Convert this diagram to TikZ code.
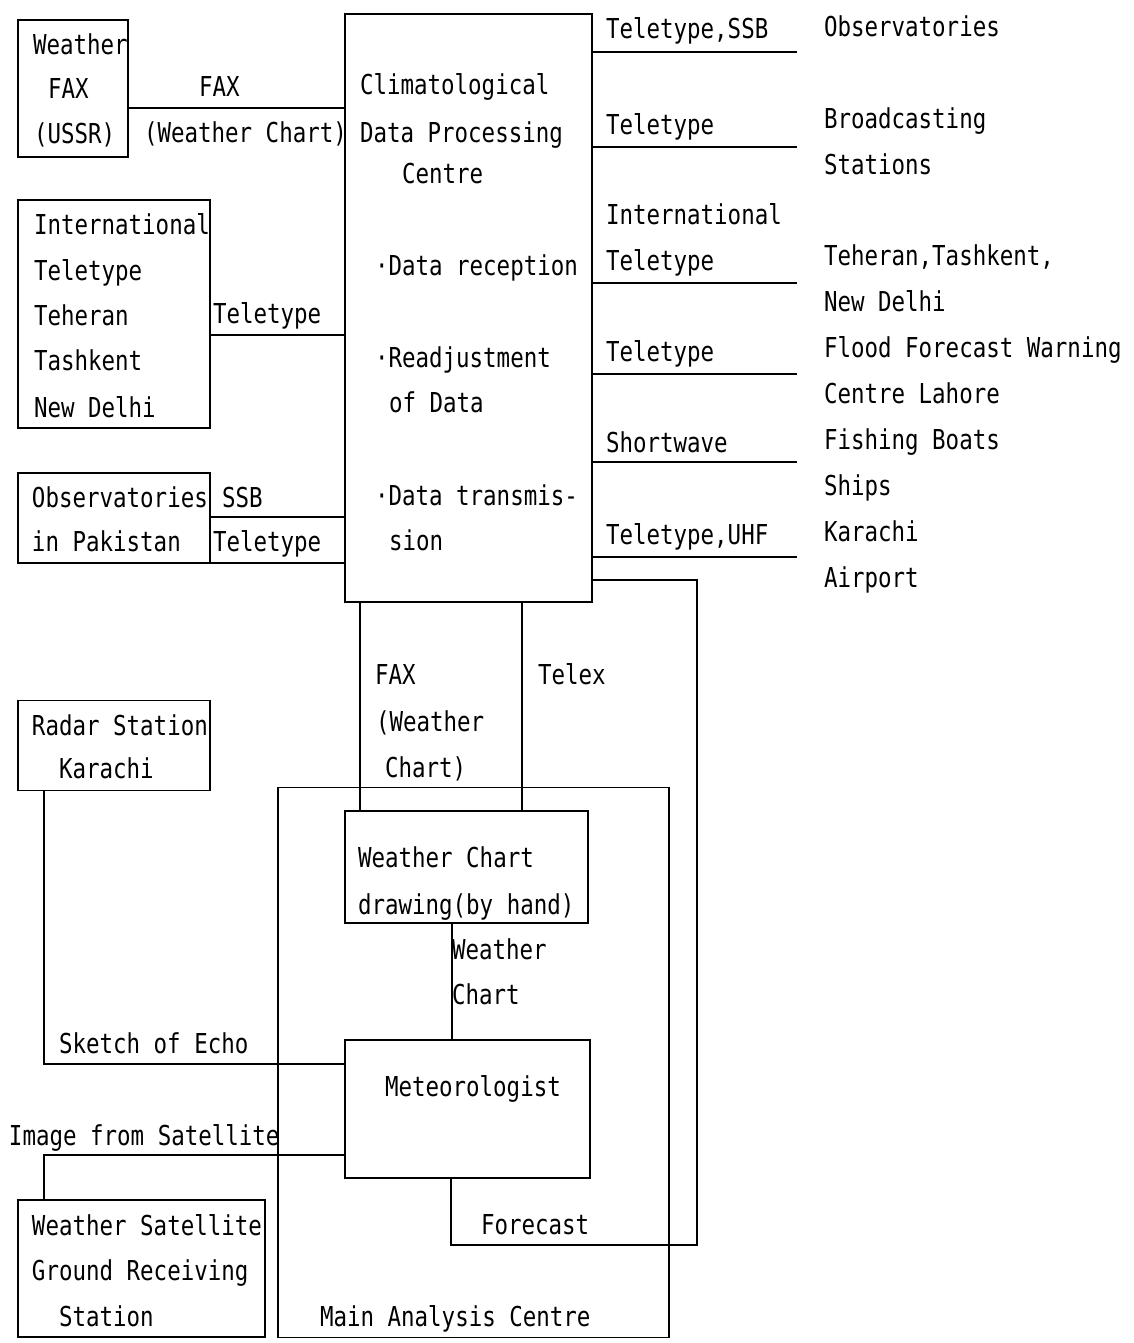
\documentclass[tikz,border=0pt]{standalone}
\usepackage{fontspec}
\setmainfont{DejaVu Sans Mono}[FakeStretch=0.82]
\begin{document}
\begin{tikzpicture}[x=0.5pt,y=-0.5pt,
  every node/.style={font=\fontsize{13.7}{16}\selectfont},
  box/.style={draw, line width=0.7pt, inner sep=0pt, outer sep=0pt},
  txt/.style={anchor=base west, inner sep=0pt, outer sep=0pt},
  conn/.style={line width=0.7pt}]
\useasboundingbox (0,0) rectangle (1134,1343);
% boxes
\node[box, minimum width=55pt, minimum height=68.5pt] (usr) at (73,88.5) {};
\node[box, minimum width=123.5pt, minimum height=294pt] (cdp) at (468.5,308) {};
\node[box, minimum width=96pt, minimum height=114pt] (intl) at (114,314) {};
\node[box, minimum width=96pt, minimum height=45pt] (obs) at (114,518) {};
\node[box, minimum width=96pt, minimum height=45pt] (radar) at (114,745.5) {};
\node[box, minimum width=195.5pt, minimum height=275pt] (mac) at (473.5,1062.5) {};
\node[box, minimum width=121.5pt, minimum height=56pt] (wcd) at (466.5,867) {};
\node[box, minimum width=122.5pt, minimum height=69pt] (met) at (467.5,1109) {};
\node[box, minimum width=123.5pt, minimum height=68.5pt] (sat) at (141.5,1268.5) {};
% texts in boxes
\node[txt] (t1) at (33,55) {Weather};
\node[txt] (t2) at (48,98) {FAX};
\node[txt] (t3) at (34,143) {(USSR)};
\node[txt] (t4) at (360,95) {Climatological};
\node[txt] (t5) at (360,142) {Data Processing};
\node[txt] (t6) at (402,184) {Centre};
\node[txt] (t7) at (375,275) {·Data reception};
\node[txt] (t8) at (375,367) {·Readjustment};
\node[txt] (t9) at (389,412) {of Data};
\node[txt] (t10) at (375,505) {·Data transmis-};
\node[txt] (t11) at (389,550) {sion};
\node[txt] (t12) at (34,234) {International};
\node[txt] (t13) at (34,280) {Teletype};
\node[txt] (t14) at (34,325) {Teheran};
\node[txt] (t15) at (34,370) {Tashkent};
\node[txt] (t16) at (34,417) {New Delhi};
\node[txt] (t17) at (32,507) {Observatories};
\node[txt] (t18) at (32,551) {in Pakistan};
\node[txt] (t19) at (32,735) {Radar Station};
\node[txt] (t20) at (59,778) {Karachi};
\node[txt] (t21) at (358,867) {Weather Chart};
\node[txt] (t22) at (358,914) {drawing(by hand)};
\node[txt] (t23) at (385,1096) {Meteorologist};
\node[txt] (t24) at (32,1235) {Weather Satellite};
\node[txt] (t25) at (32,1280) {Ground Receiving};
\node[txt] (t26) at (59,1326) {Station};
\node[txt] (t27) at (320,1326) {Main Analysis Centre};
% connector labels
\node[txt] (l1) at (199,97) {FAX};
\node[txt] (l2) at (144,142) {(Weather Chart)};
\node[txt] (l3) at (213,323) {Teletype};
\node[txt] (l4) at (222,507) {SSB};
\node[txt] (l5) at (213,551) {Teletype};
\node[txt] (l6) at (375,684) {FAX};
\node[txt] (l7) at (376,731) {(Weather};
\node[txt] (l8) at (385,777) {Chart)};
\node[txt] (l9) at (538,684) {Telex};
\node[txt] (l10) at (452,959) {Weather};
\node[txt] (l11) at (452,1004) {Chart};
\node[txt] (l12) at (59,1053) {Sketch of Echo};
\node[txt] (l13) at (9,1145) {Image from Satellite};
\node[txt] (l14) at (481,1234) {Forecast};
% right labels
\node[txt] (r1t) at (606,39) {Teletype,SSB};
\node[txt] (r2t) at (606,134) {Teletype};
\node[txt] (r3a) at (606,224) {International};
\node[txt] (r3t) at (606,270) {Teletype};
\node[txt] (r4t) at (606,361) {Teletype};
\node[txt] (r5t) at (606,452) {Shortwave};
\node[txt] (r6t) at (606,544) {Teletype,UHF};
\node[txt] (d1) at (824,37) {Observatories};
\node[txt] (d2) at (824,128) {Broadcasting};
\node[txt] (d3) at (824,174) {Stations};
\node[txt] (d4) at (824,265) {Teheran,Tashkent,};
\node[txt] (d5) at (824,311) {New Delhi};
\node[txt] (d6) at (824,357) {Flood Forecast Warning};
\node[txt] (d7) at (824,403) {Centre Lahore};
\node[txt] (d8) at (824,449) {Fishing Boats};
\node[txt] (d9) at (824,495) {Ships};
\node[txt] (d10) at (824,541) {Karachi};
\node[txt] (d11) at (824,587) {Airport};
% coordinates
\coordinate (r1) at (797,52);
\coordinate (r2) at (797,147);
\coordinate (r3) at (797,283);
\coordinate (r4) at (797,374);
\coordinate (r5) at (797,462);
\coordinate (r6) at (797,557);
\coordinate (fx) at (0,108);
\coordinate (ty) at (0,335);
\coordinate (ss) at (0,517);
\coordinate (fxd) at (360,0);
\coordinate (tlx) at (522,0);
\coordinate (fbA) at (697,580);
\coordinate (fbB) at (697,1245);
\coordinate (fbC) at (451,1245);
\coordinate (wm) at (452,0);
\coordinate (sk) at (44,1064);
\coordinate (im) at (44,1155);
% connectors
\foreach \r in {r1,r2,r3,r4,r5,r6} \draw[conn] (cdp.east |- \r) -- (\r);
\draw[conn] (usr.east |- fx) -- (cdp.west |- fx);
\draw[conn] (intl.east |- ty) -- (cdp.west |- ty);
\draw[conn] (obs.east |- ss) -- (cdp.west |- ss);
\draw[conn] (obs.south east) -- (obs.south east -| cdp.west);
\draw[conn] (cdp.south -| fxd) -- (wcd.north -| fxd);
\draw[conn] (cdp.south -| tlx) -- (wcd.north -| tlx);
\draw[conn] (cdp.east |- fbA) -- (fbA) -- (fbB) -- (fbC) -- (met.south -| fbC);
\draw[conn] (wcd.south -| wm) -- (met.north -| wm);
\draw[conn] (radar.south -| sk) -- (sk) -- (met.west |- sk);
\draw[conn] (sat.north -| im) -- (im) -- (met.west |- im);
\end{tikzpicture}
\end{document}
